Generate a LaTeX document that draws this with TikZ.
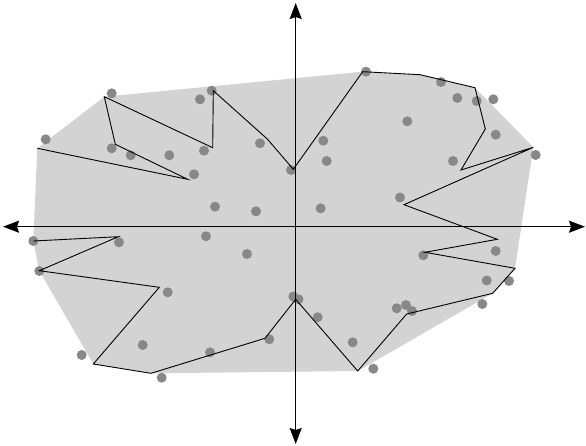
\documentclass[tikz,border=0pt]{standalone}
\usetikzlibrary{arrows.meta}
\definecolor{hullgray}{RGB}{211,211,211}
\definecolor{dotgray}{RGB}{136,136,136}
\tikzset{
  hull/.style={fill=hullgray,draw=none},
  pt/.style={fill=dotgray,draw=none},
  chain/.style={draw=black,line width=0.9pt,line join=miter},
  axis/.style={draw=black,line width=1.3pt,-{Stealth[length=16pt,width=12pt,inset=2pt]}}
}
\begin{document}
\begin{tikzpicture}[x=1pt,y=-1pt]
\useasboundingbox (0,0) rectangle (586,446);
% polygon vertices
\coordinate (v1) at (37.3,148.3);
\coordinate (v2) at (187.7,179.3);
\coordinate (v3) at (115.3,144.3);
\coordinate (v4) at (104.3,96.7);
\coordinate (v5) at (212.7,147.7);
\coordinate (v6) at (213.3,90.7);
\coordinate (v7) at (267.3,139);
\coordinate (v8) at (293.3,169.3);
\coordinate (v9) at (362.7,71.7);
\coordinate (v10) at (420,74.7);
\coordinate (v11) at (475,87.7);
\coordinate (v12) at (485.3,129);
\coordinate (v13) at (461,170);
\coordinate (v14) at (533.3,147.3);
\coordinate (v15) at (404,204.7);
\coordinate (v16) at (497.3,239.3);
\coordinate (v17) at (425,252.3);
\coordinate (v18) at (515,268.3);
\coordinate (v19) at (492.7,293.3);
\coordinate (v20) at (406.7,314);
\coordinate (v21) at (357.7,371);
\coordinate (v22) at (295.7,299.3);
\coordinate (v23) at (265,338.3);
\coordinate (v24) at (151,373.3);
\coordinate (v25) at (93.3,364);
\coordinate (v26) at (159.3,287.3);
\coordinate (v27) at (39.3,270.7);
\coordinate (v28) at (118.3,236.7);
\coordinate (v29) at (33.3,241);
% convex hull
\path[hull] (v1) -- (v4) -- (v9) -- (v10) -- (v11) -- (v14) -- (v18) -- (v19) -- (v21) -- (v24) -- (v25) -- (v27) -- (v29) -- cycle;
% points
\foreach \p in {(111.7,93.3),(45.7,139.3),(111.7,148.3),(130.7,155.3),(169.3,155.3),(194,174.3),
  (200,99.3),(211.7,90.7),(204,150.7),(260,143.3),(291,170),(323.3,140.7),(326.7,161),(366,71.7),
  (441,82),(457.3,98),(476.7,101),(493.3,99.3),(407.3,121.3),(495.7,134.7),(453,161),(535.7,155),
  (400,197.5),(495.7,251),(423.3,255.3),(486.7,280.5),(509,281),(482.3,304),(396.7,308.3),(406,305),
  (412,311),(293.3,296.5),(298.5,299.3),(317.7,317.2),(352.7,342.3),(373.3,368.7),(81.7,355),
  (142.7,345),(210,352.3),(269.3,339.3),(161.7,377.7),(33.3,241),(119,242.3),(39.3,271),
  (167.7,292.3),(215,206.7),(256,211.3),(320.7,208.3),(206,236.3),(247,254)}
  \fill[pt] \p circle (5);
% polygonal chain
\draw[chain] (v1) -- (v2) -- (v3) -- (v4) -- (v5) -- (v6) -- (v7) -- (v8) -- (v9) -- (v10)
  -- (v11) -- (v12) -- (v13) -- (v14) -- (v15) -- (v16) -- (v17) -- (v18) -- (v19) -- (v20)
  -- (v21) -- (v22) -- (v23) -- (v24) -- (v25) -- (v26) -- (v27) -- (v28) -- (v29);
% axes
\coordinate (o) at (295.7,226.7);
\coordinate (xl) at (3,226.7);
\coordinate (xr) at (585,226.7);
\coordinate (yt) at (295.7,3);
\coordinate (yb) at (295.7,444);
\draw[axis] (o) -- (xl);
\draw[axis] (o) -- (xr);
\draw[axis] (o) -- (yt);
\draw[axis] (o) -- (yb);
\end{tikzpicture}
\end{document}
